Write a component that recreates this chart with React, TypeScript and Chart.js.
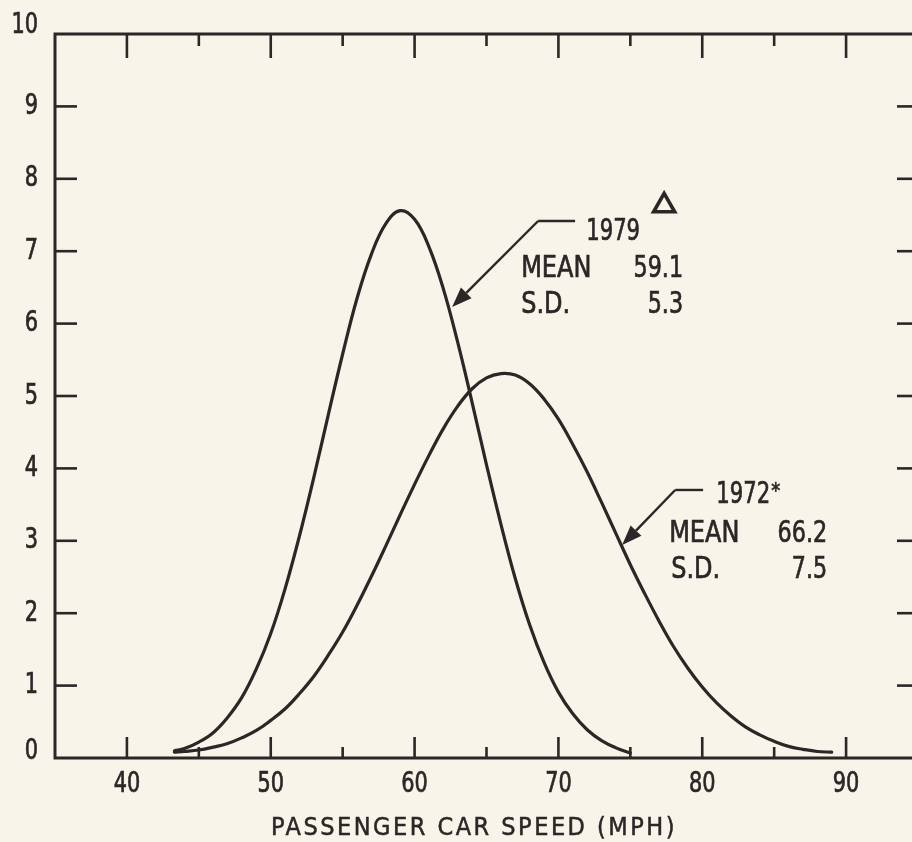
import React, { useEffect, useRef } from "react";
import { Chart, registerables } from "chart.js";

Chart.register(...registerables);

// ---- data ----
const speeds1979 = [43.3, 44, 45, 46, 47, 48, 49, 50, 51, 52, 53, 54, 55, 56, 57, 58, 59, 60, 61, 62, 63, 64, 65, 66, 67, 68, 69, 70, 71, 72, 73, 74, 75];
const pct1979 = [0.1, 0.13, 0.22, 0.35, 0.56, 0.84, 1.23, 1.72, 2.34, 3.07, 3.88, 4.74, 5.58, 6.35, 6.96, 7.38, 7.56, 7.44, 7.06, 6.48, 5.74, 4.91, 4.05, 3.23, 2.48, 1.84, 1.32, 0.91, 0.61, 0.39, 0.24, 0.14, 0.07];

const speeds1972 = [43.3, 44, 45, 46, 47, 48, 49, 50, 51, 52, 53, 54, 55, 56, 57, 58, 59, 60, 61, 62, 63, 64, 65, 66, 67, 68, 69, 70, 71, 72, 73, 74, 75, 76, 77, 78, 79, 80, 81, 82, 83, 84, 85, 86, 87, 88, 89];
const pct1972 = [0.08, 0.09, 0.11, 0.15, 0.2, 0.28, 0.38, 0.52, 0.68, 0.89, 1.13, 1.42, 1.74, 2.11, 2.51, 2.93, 3.36, 3.78, 4.18, 4.55, 4.86, 5.1, 5.25, 5.31, 5.29, 5.17, 4.96, 4.68, 4.33, 3.95, 3.53, 3.1, 2.67, 2.27, 1.89, 1.54, 1.24, 0.98, 0.76, 0.58, 0.43, 0.32, 0.23, 0.16, 0.12, 0.09, 0.08];

const xTickValues = [40, 50, 60, 70, 80, 90];
const xMinorTickValues = [45, 55, 65, 75, 85];
const yTickValues = [0, 1, 2, 3, 4, 5, 6, 7, 8, 9, 10];
const xAxisTitle = "PASSENGER CAR SPEED (MPH)";

const label1979 = ["1979", "MEAN", "59.1", "S.D.", "5.3"];
const label1972 = ["1972", "MEAN", "66.2", "S.D.", "7.5"];

// ---- styling ----
const FONT = '"DejaVu Sans Condensed", "Liberation Sans Narrow", "Arial Narrow", sans-serif';
const INK = "#2b2727";
const BG = "#f7f4ea";
const SQUEEZE = 0.8;

function squeezedText(
  ctx: CanvasRenderingContext2D,
  text: string,
  x: number,
  y: number,
  align: CanvasTextAlign,
  sx: number = SQUEEZE
) {
  ctx.save();
  ctx.translate(x, y);
  ctx.scale(sx, 1);
  ctx.textAlign = align;
  ctx.lineWidth = 0.7;
  ctx.strokeStyle = INK;
  ctx.fillText(text, 0, 0);
  ctx.strokeText(text, 0, 0);
  ctx.restore();
}

const backgroundPlugin = {
  id: "bgFill",
  beforeDraw(chart: any) {
    const { ctx, width, height } = chart;
    ctx.save();
    ctx.fillStyle = BG;
    ctx.fillRect(0, 0, width, height);
    ctx.restore();
  },
};

const framePlugin = {
  id: "frame",
  afterDraw(chart: any) {
    const { ctx, chartArea } = chart;
    const xs = chart.scales.x;
    const ys = chart.scales.y;
    const { left, right, top, bottom } = chartArea;
    ctx.save();
    ctx.strokeStyle = INK;
    ctx.lineCap = "butt";
    ctx.lineWidth = 3;
    ctx.beginPath();
    ctx.moveTo(left, bottom);
    ctx.lineTo(left, top);
    ctx.lineTo(right, top);
    ctx.lineTo(right, bottom);
    ctx.closePath();
    ctx.stroke();

    ctx.lineWidth = 2.6;
    const tick = (x1: number, y1: number, x2: number, y2: number) => {
      ctx.beginPath();
      ctx.moveTo(x1, y1);
      ctx.lineTo(x2, y2);
      ctx.stroke();
    };
    xTickValues.forEach((v) => {
      const px = xs.getPixelForValue(v);
      tick(px, bottom, px, bottom - 21);
      tick(px, top, px, top + 24);
    });
    xMinorTickValues.forEach((v) => {
      const px = xs.getPixelForValue(v);
      tick(px, bottom, px, bottom - 11);
      tick(px, top, px, top + 12);
    });
    yTickValues.slice(1, -1).forEach((v) => {
      const py = ys.getPixelForValue(v);
      tick(left, py, left + 22, py);
      tick(right, py, right - 21, py);
    });

    // tick labels (from the library's scales)
    ctx.fillStyle = INK;
    ctx.font = `29px ${FONT}`;
    ctx.textBaseline = "middle";
    xs.ticks.forEach((t: any) => {
      squeezedText(ctx, String(t.value), xs.getPixelForValue(t.value), bottom + 26, "center");
    });
    ys.ticks.forEach((t: any) => {
      const nudge = t.value === ys.max ? -9 : t.value === ys.min ? -7 : 0;
      squeezedText(ctx, String(t.value), left - 17, ys.getPixelForValue(t.value) + nudge, "right");
    });

    // axis title
    ctx.font = `25px ${FONT}`;
    (ctx as any).letterSpacing = "2.5px";
    ctx.textAlign = "center";
    ctx.textBaseline = "alphabetic";
    ctx.lineWidth = 0.5;
    const tx = xs.getPixelForValue(64.1) + 0.5;
    ctx.fillText(xAxisTitle, tx, 835);
    ctx.strokeText(xAxisTitle, tx, 835);
    (ctx as any).letterSpacing = "0px";
    ctx.restore();
  },
};

function drawArrow(ctx: CanvasRenderingContext2D, fx: number, fy: number, tx: number, ty: number) {
  const ang = Math.atan2(ty - fy, tx - fx);
  const len = 20;
  const hw = 7.5;
  const bx = tx - Math.cos(ang) * len;
  const by = ty - Math.sin(ang) * len;
  ctx.beginPath();
  ctx.moveTo(fx, fy);
  ctx.lineTo(bx, by);
  ctx.stroke();
  ctx.beginPath();
  ctx.moveTo(tx, ty);
  ctx.lineTo(bx + Math.sin(ang) * hw, by - Math.cos(ang) * hw);
  ctx.lineTo(bx - Math.sin(ang) * hw, by + Math.cos(ang) * hw);
  ctx.closePath();
  ctx.fill();
}

const annotationPlugin = {
  id: "notes",
  afterDatasetsDraw(chart: any) {
    const { ctx } = chart;
    const xs = chart.scales.x;
    const ys = chart.scales.y;
    const X = (v: number) => xs.getPixelForValue(v);
    const Y = (v: number) => ys.getPixelForValue(v);
    ctx.save();
    ctx.fillStyle = INK;
    ctx.strokeStyle = INK;
    ctx.lineWidth = 2.4;
    ctx.font = `31px ${FONT}`;
    ctx.textBaseline = "alphabetic";

    // 1979 block
    ctx.beginPath();
    ctx.moveTo(X(71.16), Y(7.417));
    ctx.lineTo(X(68.59), Y(7.417));
    ctx.stroke();
    drawArrow(ctx, X(68.59), Y(7.417), X(62.61), Y(6.229));
    squeezedText(ctx, label1979[0], X(71.93), Y(7.155), "left", 0.76);
    squeezedText(ctx, label1979[1], X(67.41), Y(6.644), "left", 0.86);
    squeezedText(ctx, label1979[3], X(67.41), Y(6.146), "left", 0.86);
    squeezedText(ctx, label1979[2], X(78.67), Y(6.644), "right", 0.8);
    squeezedText(ctx, label1979[4], X(78.67), Y(6.146), "right", 0.8);
    // delta marker
    ctx.lineWidth = 3.6;
    ctx.lineJoin = "miter";
    ctx.beginPath();
    const cx = X(77.35);
    ctx.moveTo(cx, Y(7.80));
    ctx.lineTo(cx + 10.5, Y(7.545));
    ctx.lineTo(cx - 10.5, Y(7.545));
    ctx.closePath();
    ctx.stroke();

    // 1972 block
    ctx.lineWidth = 2.4;
    ctx.beginPath();
    ctx.moveTo(X(80.06), Y(3.702));
    ctx.lineTo(X(78.12), Y(3.702));
    ctx.stroke();
    drawArrow(ctx, X(78.12), Y(3.702), X(74.43), Y(2.942));
    squeezedText(ctx, label1972[0], X(80.97), Y(3.522), "left", 0.76);
    const wYear = ctx.measureText(label1972[0]).width * 0.76;
    squeezedText(ctx, label1972[1], X(77.7), Y(2.983), "left", 0.86);
    squeezedText(ctx, label1972[3], X(77.84), Y(2.486), "left", 0.86);
    squeezedText(ctx, label1972[2], X(88.69), Y(2.983), "right", 0.8);
    squeezedText(ctx, label1972[4], X(88.69), Y(2.486), "right", 0.8);
    ctx.font = `22px ${FONT}`;
    squeezedText(ctx, "*", X(80.97) + wYear + 1, Y(3.522) - 5, "left", 0.9);
    ctx.restore();
  },
};

export default function App() {
  const ref = useRef<HTMLCanvasElement | null>(null);

  useEffect(() => {
    if (!ref.current) return;
    const lineStyle = {
      borderColor: INK,
      borderWidth: 3.2,
      pointRadius: 0,
      tension: 0.4,
      fill: false,
      borderCapStyle: "round" as const,
    };
    const chart = new Chart(ref.current, {
      type: "line",
      data: {
        datasets: [
          {
            label: "1979",
            data: speeds1979.map((x, i) => ({ x, y: pct1979[i] })),
            ...lineStyle,
          },
          {
            label: "1972",
            data: speeds1972.map((x, i) => ({ x, y: pct1972[i] })),
            ...lineStyle,
          },
        ],
      },
      options: {
        responsive: false,
        animation: false,
        devicePixelRatio: 1,
        layout: { padding: { top: 34, right: 12, left: 0, bottom: 0 } },
        plugins: {
          legend: { display: false },
          tooltip: { enabled: false },
          title: { display: false },
        },
        scales: {
          x: {
            type: "linear",
            min: 35,
            max: 95,
            grid: { display: false, drawTicks: false },
            border: { display: false },
            afterBuildTicks: (s: any) => {
              s.ticks = xTickValues.map((v) => ({ value: v }));
            },
            afterFit: (s: any) => {
              s.height = 84;
            },
            ticks: { display: false },
          },
          y: {
            min: 0,
            max: 10,
            grid: { display: false, drawTicks: false },
            border: { display: false },
            afterBuildTicks: (s: any) => {
              s.ticks = yTickValues.map((v) => ({ value: v }));
            },
            afterFit: (s: any) => {
              s.width = 55;
            },
            ticks: { display: false },
          },
        },
      },
      plugins: [backgroundPlugin, annotationPlugin, framePlugin],
    });
    return () => chart.destroy();
  }, []);

  return (
    <div
      style={{
        position: "fixed",
        left: 0,
        top: 0,
        width: 912,
        height: 842,
        overflow: "hidden",
        background: BG,
      }}
    >
      <canvas ref={ref} width={930} height={842} style={{ width: 930, height: 842, display: "block" }} />
    </div>
  );
}
